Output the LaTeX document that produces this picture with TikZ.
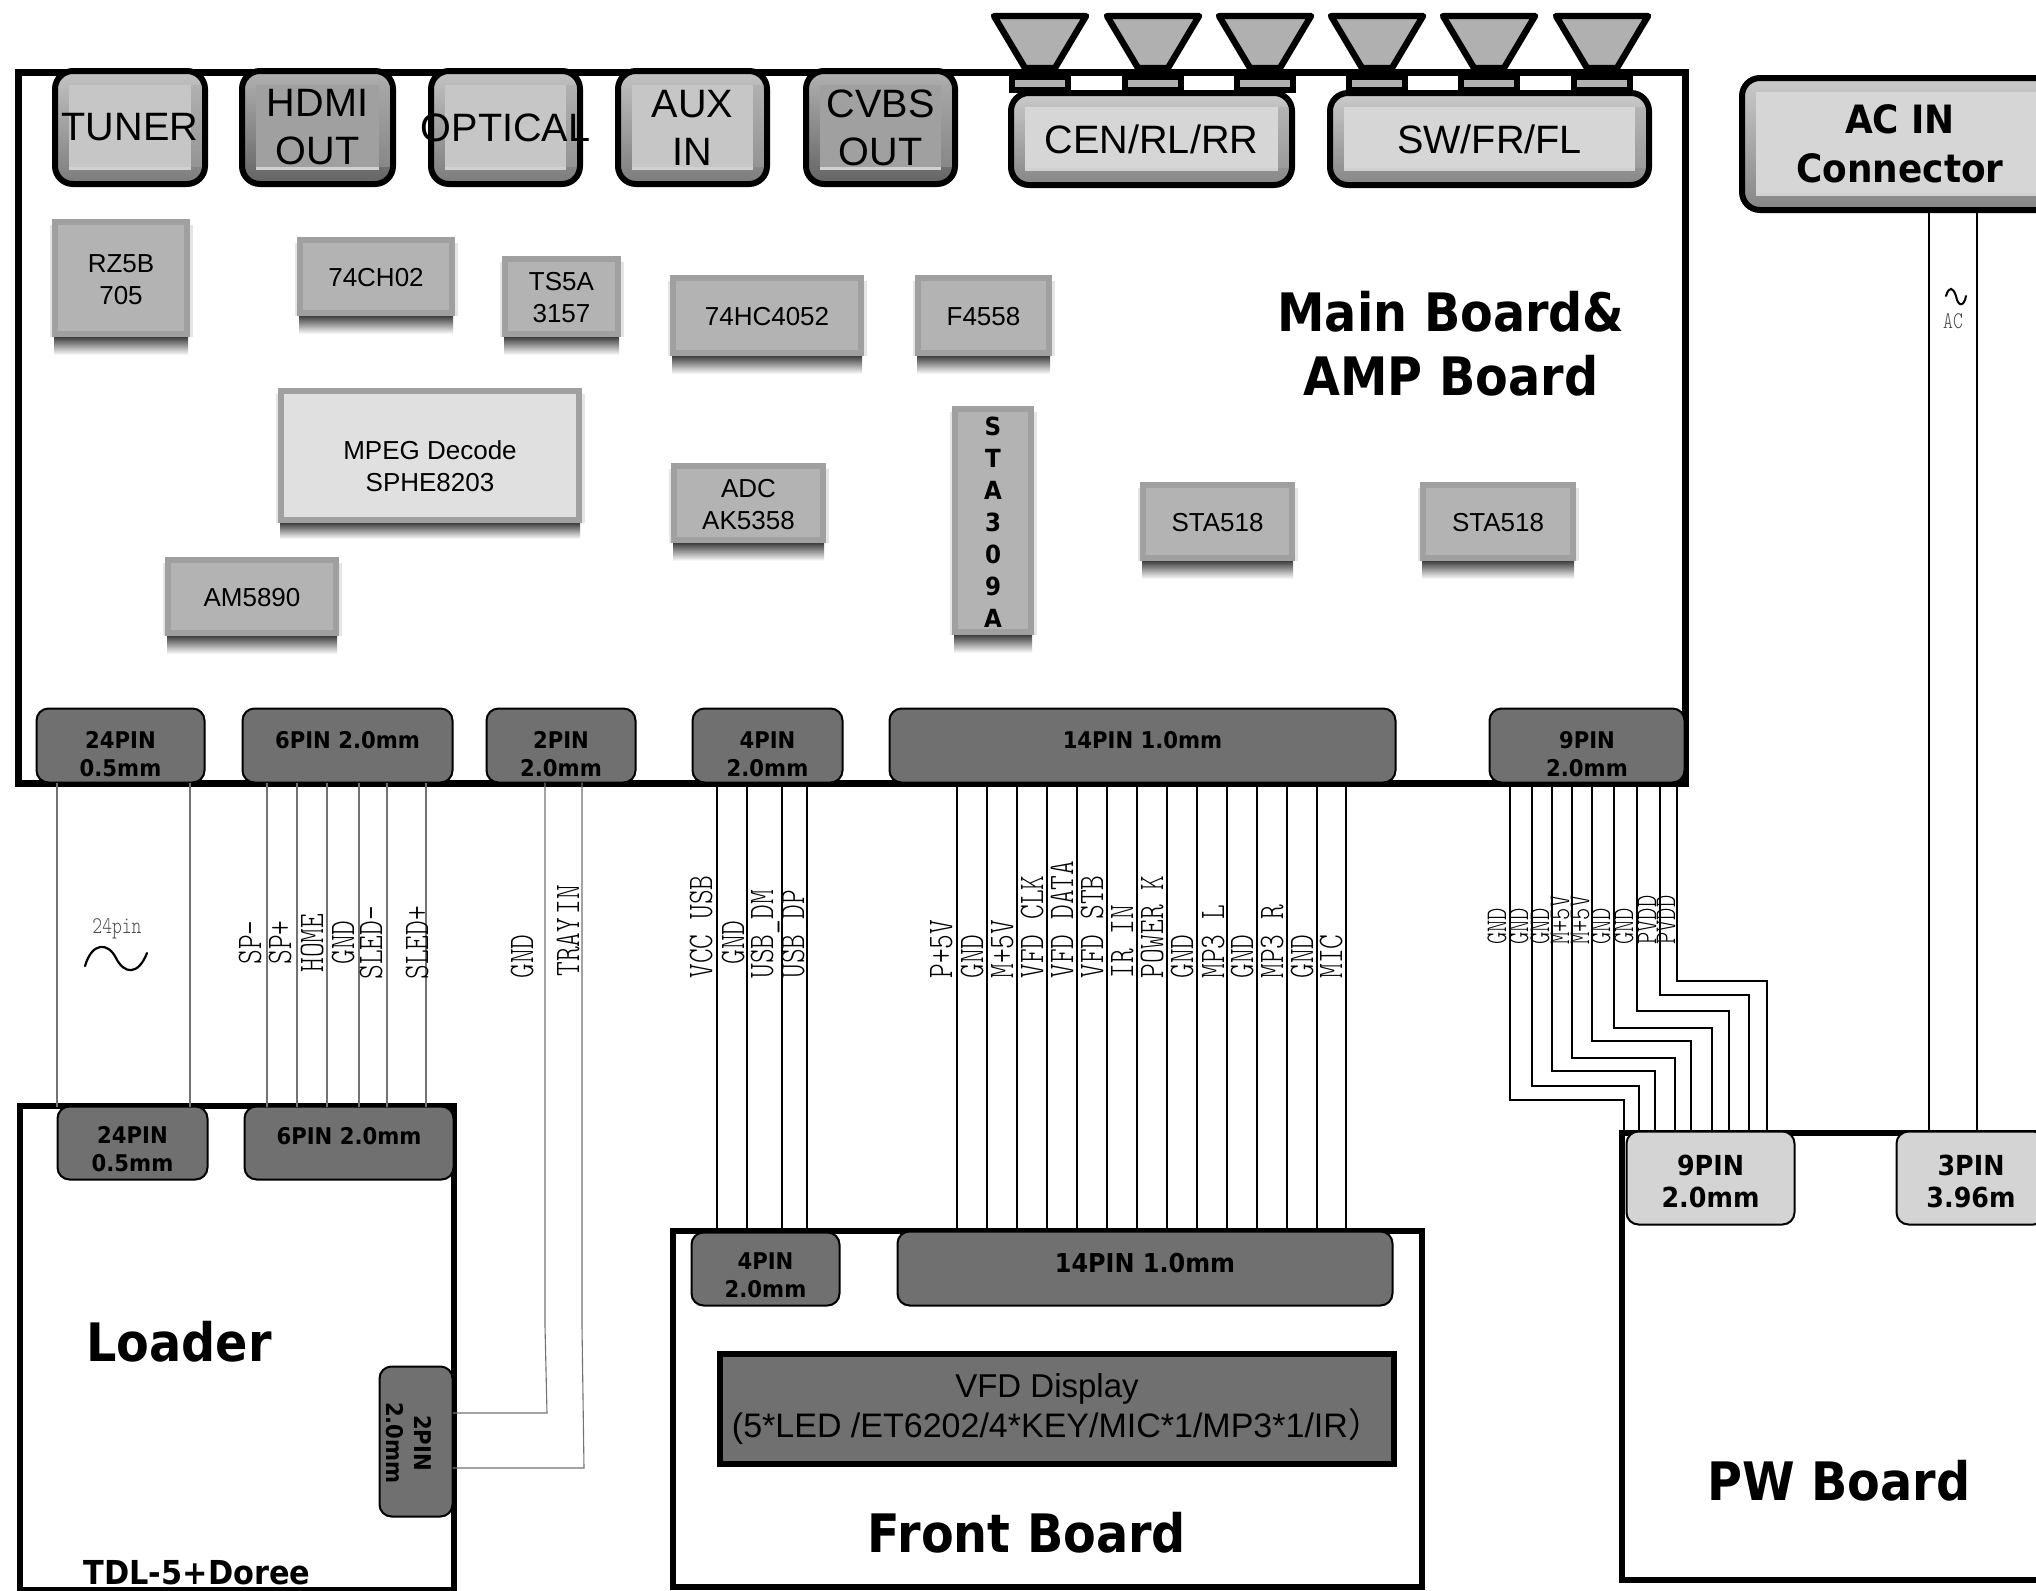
\documentclass[tikz,border=0pt]{standalone}
\usepackage{fontspec}
\setmainfont{Liberation Sans}
\newfontfamily\vb[FakeStretch=0.92]{DejaVu Sans}
\newfontfamily\vbt[FakeStretch=0.9]{DejaVu Sans}
\newfontfamily\wf[FakeStretch=0.78]{Latin Modern Mono Light}
\newfontfamily\cjkf{Noto Sans CJK SC}
\newcommand\fs[2]{\fontsize{#1}{#2}\selectfont}
\definecolor{conn}{HTML}{707070}
\definecolor{pwc}{HTML}{D4D4D4}
\definecolor{chipf}{HTML}{B3B3B3}
\definecolor{chipr}{HTML}{A0A0A0}
\definecolor{spk}{HTML}{B0B0B0}
\definecolor{beva}{HTML}{C6C6C6}
\definecolor{bevb}{HTML}{A0A0A0}
\definecolor{bevc}{HTML}{D6D6D6}
\tikzset{
  boardbox/.style={draw=black,line width=3pt,inner sep=0pt,outer sep=0pt},
  connbox/.style={draw=black,line width=1pt,rounded corners=6pt,inner sep=0pt,outer sep=0pt},
  conntext/.style={inner sep=0pt,align=center,font=\vb\bfseries\fs{11.5}{14}},
  chipbox/.style={draw=chipr,line width=3pt,fill=chipf,inner sep=0pt,outer sep=0pt},
  chiptext/.style={inner sep=0pt,align=center,font=\fs{13}{16}},
  rimbox/.style={draw=black,line width=3pt,rounded corners=9pt,inner sep=0pt,outer sep=0pt,top color=#1!60!white,bottom color=#1!80!black},
  coretext/.style={inner sep=0pt,align=center,font=\fs{19.8}{24}},
  title/.style={inner sep=0pt,align=center,font=\vbt\bfseries\fs{26.5}{32}},
  wirelabel/.style={rotate=90,anchor=base west,inner sep=0pt,font=\wf\fs{18}{18}},
  wirelabelsmall/.style={rotate=90,anchor=base west,inner sep=0pt,font=\wf\fs{15}{15}},
  thinwire/.style={draw=black!55,line width=0.55pt},
  midwire/.style={draw=black,line width=0.8pt},
  fatwire/.style={draw=black,line width=1pt,line join=miter},
}
% style, name, x1,y1,x2,y2
\newcommand\bx[6]{\node[#1,minimum width={(#5-#3-1)*0.5pt},minimum height={(#6-#4-1)*0.5pt}] (#2) at ({(#3+#5)/2},{(#4+#6)/2}) {};}
% name, x1,y1,x2,y2, fill, text, text y offset
\newcommand\cn[8]{\bx{connbox,fill=#6}{#1}{#2}{#3}{#4}{#5}\node[conntext] (#1t) at ([yshift=#8*-0.5pt]#1.center) {#7};}
% name,x1,y1,x2,y2,text
\newcommand\chip[6]{%
  \fill[black!10] (#2-2,#3+6) rectangle (#4+3,#5);
  \shade[top color=black!75,middle color=black!62,bottom color=white] (#2+2,#5) rectangle (#4-2,#5+18);
  \node[chipbox,minimum width={(#4-#2-6)*0.5pt},minimum height={(#5-#3-6)*0.5pt}] (#1) at ({(#2+#4)/2},{(#3+#5)/2}) {};
  \node[chiptext] (#1t) at ({(#2+#4)/2},{(#3+#5)/2+1.5}) {#6};}
% name,x1,y1,x2,y2,colour,text
\newcommand\bev[7]{%
  \node[rimbox=#6!78!black,minimum width={(#4-#2-6)*0.5pt},minimum height={(#5-#3-6)*0.5pt}] (#1) at ({(#2+#4)/2},{(#3+#5)/2}) {};
  \fill[black!35,opacity=.45] (#4-17,#3+17) rectangle (#4-6,#5-20);
  \fill[#6] (#2+17,#3+17) rectangle (#4-17,#5-20);
  \fill[white!82!black] (#2+17,#5-20) rectangle (#4-17,#5-17.5);
  \node[coretext] (#1t) at ({(#2+#4)/2},{(#3+#5)/2}) {#7};}
\begin{document}
\begin{tikzpicture}[x=0.5pt,y=-0.5pt]
\useasboundingbox (0,0) rectangle (2036,1591);
\clip (0,0) rectangle (2036,1591);
\fill[white] (0,0) rectangle (2036,1591);
% boards
\bx{boardbox,line width=3.5pt}{main}{18}{71.5}{1686}{784}
\bx{boardbox}{loader}{19.5}{1105}{454.5}{1590}
\bx{boardbox}{front}{672}{1230}{1422}{1587}
\bx{boardbox}{pw}{1621}{1132}{2100}{1580}
% speakers
\foreach \c in {1040,1153,1265,1377,1489,1602}{
  \draw[line width=3.2pt,fill=spk,line join=round] (\c-46,16)--(\c+46,16)--(\c+15,68)--(\c-15,68)--cycle;
  \draw[line width=3pt,fill=spk] (\c-28,77) rectangle (\c+28,90);
}
% top connectors
\bev{tuner}{52}{68}{208}{187}{beva}{TUNER}
\bev{hdmi}{239}{68}{396}{187}{bevb}{HDMI\\OUT}
\bev{optical}{428}{68}{583}{187}{beva}{OPTICAL}
\bev{aux}{615}{68}{770}{187}{beva}{AUX\\IN}
\bev{cvbs}{803}{68}{958}{187}{bevb}{CVBS\\OUT}
\bev{cen}{1008}{90}{1295}{188}{bevc}{CEN/RL/RR}
\bev{sw}{1327}{90}{1652}{188}{bevc}{SW/FR/FL}
\begin{scope}[coretext/.append style={font=\vb\bfseries\fs{19.5}{24.5}}]
\bev{acin}{1739}{75}{2061}{213}{bevc}{AC IN\\Connector}
\end{scope}
% chips
\chip{rz}{52}{219}{190}{337}{RZ5B\\705}
\chip{ch02}{297}{237}{455}{316}{74CH02}
\chip{ts}{502}{256}{621}{337}{TS5A\\3157}
\chip{hc}{670}{275}{864}{356}{74HC4052}
\chip{f45}{915}{275}{1052}{356}{F4558}
\chip{adc}{671}{463}{826}{543}{ADC\\AK5358}
\chip{am}{165}{557}{339}{636}{AM5890}
\begin{scope}[chiptext/.append style={font=\vb\bfseries\fs{12.5}{16}}]
\chip{sta3}{952}{406}{1034}{635}{S\\T\\A\\3\\0\\9\\A}
\end{scope}
\chip{staa}{1140}{482}{1295}{561}{STA518}
\chip{stab}{1420}{482}{1576}{561}{STA518}
\fill[black!10] (276,394) rectangle (585,523);
\shade[top color=black!75,middle color=black!62,bottom color=white] (280,523) rectangle (580,539);
\node[chipbox,fill=black!12,minimum width={149pt},minimum height={64.5pt}] (mpeg) at (430,455.5) {};
\node[chiptext] (mpegt) at (430,466.5) {MPEG Decode\\SPHE8203};
% board titles
\node[title] (tmain) at (1451,344) {Main Board\&\\AMP Board};
\node[title] (tloader) at (179,1342) {Loader};
\node[title] (tfront) at (1027,1533) {Front Board};
\node[title] (tpw) at (1839,1481) {PW Board};
\node[title,font=\vb\bfseries\fs{16.5}{20}] (ttdl) at (197,1573) {TDL-5+Doree};
% VFD
\node[draw=black,line width=3pt,fill=conn,minimum width={337pt},minimum height={55pt},inner sep=0pt] (vfd) at (1056.5,1408.5) {};
\node[inner sep=0pt,align=center,font=\fs{16.5}{20}] (vfdt) at (1047,1409) {VFD Display\\\hspace*{10pt}\fs{17}{20}(5*LED /ET6202/4*KEY/MIC*1/MP3*1/IR{\cjkf ）}};
% lower connectors on main board
\cn{m24}{36}{708}{205}{783}{conn}{24PIN\\0.5mm}{8.5}
\cn{m6}{242}{708}{453}{783}{conn}{6PIN 2.0mm}{-5.5}
\cn{m2}{486}{708}{636}{783}{conn}{2PIN\\2.0mm}{8.5}
\cn{m4}{692}{708}{843}{783}{conn}{4PIN\\2.0mm}{8.5}
\cn{m14}{889}{708}{1396}{783}{conn}{14PIN 1.0mm}{-5.5}
\cn{m9}{1489}{708}{1685}{783}{conn}{9PIN\\2.0mm}{8.5}
% loader
\cn{l24}{57}{1106}{208}{1180}{conn}{24PIN\\0.5mm}{6.5}
\cn{l6}{244}{1106}{454}{1180}{conn}{6PIN 2.0mm}{-7}
\bx{connbox,fill=conn}{l2}{379}{1366}{453}{1517}
\node[conntext,rotate=-90] (l2t) at (409,1443) {2PIN\\2.0mm};
% front
\cn{f4}{691}{1232}{840}{1306}{conn}{4PIN\\2.0mm}{6}
\begin{scope}[conntext/.append style={font=\vb\bfseries\fs{13}{14}}]
\cn{f14}{897}{1231}{1393}{1306}{conn}{14PIN 1.0mm}{-5}
\end{scope}
% PW
\begin{scope}[conntext/.append style={font=\vb\bfseries\fs{13.8}{16}}]
\cn{p9}{1626}{1131}{1795}{1225}{pwc}{9PIN\\2.0mm}{3}
\cn{p3}{1896}{1131}{2046}{1225}{pwc}{3PIN\\3.96m}{3}
\end{scope}
% wires
\foreach \x in {57,190}{\draw[thinwire] (m24.south -| \x,0) -- (l24.north -| \x,0);}
\foreach \x in {267,297,327,359,387,426}{\draw[thinwire] (m6.south -| \x,0) -- (l6.north -| \x,0);}
\draw[thinwire] (m2.south -| 545,0) -- (545,1326) -- (547,1413) -- (l2.east |- 0,1413);
\draw[thinwire] (m2.south -| 582,0) -- (582,1326) -- (584,1468) -- (l2.east |- 0,1468);
\foreach \x in {717,747,782,807}{\draw[midwire] (m4.south -| \x,0) -- (f4.north -| \x,0);}
\foreach \x in {957,987,1017,1047,1077,1107,1137,1167,1197,1227,1257,1287,1317,1346}{\draw[midwire] (m14.south -| \x,0) -- (f14.north -| \x,0);}
\foreach \a/\h/\b in {1510/1100/1624,1532/1086/1639,1552/1071/1655,1572/1058/1675,1592/1041/1691,1614/1028/1712,1637/1011/1729,1660/995/1749,1677/981/1767}{
  \draw[fatwire] (m9.south -| \a,0) -- (\a,\h) -- (\b,\h) -- (p9.north -| \b,0);}
\foreach \x in {1929,1977}{\draw[fatwire] (acin.south -| \x,0) -- (p3.north -| \x,0);}
% wire labels
\foreach \x/\b/\t [count=\i] in {261/965/SP-,291/965/SP+,323/973/HOME,354/965/GND,382/980/SLED-,428/980/SLED+,533/979/GND,579/977/TRAY\hspace{.1em}IN,
  712/979/VCC USB,744/965/GND,773/979/USB\_DM,804/979/USB DP,
  952/979/P+5V,983/979/GND,1013/979/M+5V,1043/979/VFD CLK,1073/979/VFD DATA,1103/979/VFD STB,1133/979/IR IN,1163/979/POWER K,1193/979/GND,1224/979/MP3 L,1253/979/GND,1283/979/MP3 R,1313/979/GND,1342/979/MIC}{
  \node[wirelabel] (wl\i) at (\x,\b) {\t};}
\foreach \x/\t [count=\i] in {1506/GND,1528/GND,1549/GND,1569/M+5V,1589/M+5V,1610/GND,1633/GND,1656/PVDD,1675/PVDD}{
  \node[wirelabelsmall] (ws\i) at (\x,945) {\t};}
\node[inner sep=0pt,text=black!70,font=\wf\fs{12}{12}] (pin24) at (117,929) {24pin};
\node[inner sep=0pt,text=black!70,font=\wf\fs{12}{12}] (ac) at (1953,321) {AC};
\draw[line width=1.1pt,line cap=round] (85,966) .. controls (92,942) and (108,942) .. (116,958) .. controls (124,974) and (138,976) .. (147,953);
\draw[line width=1pt,line cap=round] (1946,296) .. controls (1949,286) and (1953,287) .. (1956,296) .. controls (1958,307) and (1964,307) .. (1966,296);
\end{tikzpicture}
\end{document}
